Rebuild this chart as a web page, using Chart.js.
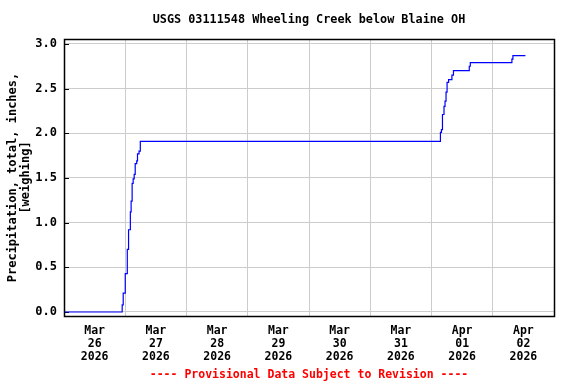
<!DOCTYPE html>
<html>
<head>
<meta charset="utf-8">
<script src="https://cdn.jsdelivr.net/npm/chart.js@4/dist/chart.umd.min.js"></script>
<style>
  html, body { margin: 0; padding: 0; background: #fff; }
  #wrap { width: 576px; height: 384px; }
</style>
</head>
<body>
<div id="wrap"><canvas id="c" width="576" height="384"></canvas></div>
<script>
// Hours since 2026-03-26 00:00 at which the accumulated precipitation changed
const HOURS = [0, 22.8, 23.2, 24.0, 24.8, 25.3, 26.0, 26.3, 26.7, 27.1, 27.5, 27.9, 28.5, 28.8, 29.4, 29.9,
               147.5, 147.9, 148.3, 148.9, 149.3, 149.7, 150.1, 150.7, 152.0, 152.6, 158.8, 159.2, 175.5, 175.9, 180.8];
// Precipitation, total, inches
const PRECIP = [0, 0.08, 0.21, 0.43, 0.70, 0.92, 1.12, 1.24, 1.44, 1.49, 1.54, 1.66, 1.69, 1.77, 1.80, 1.91,
                2.01, 2.04, 2.21, 2.30, 2.36, 2.46, 2.57, 2.60, 2.65, 2.70, 2.75, 2.79, 2.83, 2.87, 2.87];
// Day labels (centered at noon of each day)
const DAY_MONTHS = ["Mar", "Mar", "Mar", "Mar", "Mar", "Mar", "Apr", "Apr"];
const DAY_NUMS = ["26", "27", "28", "29", "30", "31", "01", "02"];
const DAY_YEARS = ["2026", "2026", "2026", "2026", "2026", "2026", "2026", "2026"];
const Y_TICKS = [0, 0.5, 1.0, 1.5, 2.0, 2.5, 3.0];

const TITLE = "USGS 03111548 Wheeling Creek below Blaine OH";
const Y_TITLE = ["Precipitation, total, inches,", "[weighing]"];
const FOOTER = "---- Provisional Data Subject to Revision ----";

const FONT = "'DejaVu Sans Mono', 'Liberation Mono', monospace";

const points = HOURS.map((h, i) => ({ x: h, y: PRECIP[i] }));

const boxPlugin = {
  id: 'box',
  beforeDatasetsDraw(chart) {
    const { ctx, chartArea: a, scales } = chart;
    ctx.save();
    ctx.strokeStyle = '#000';
    ctx.lineWidth = 1;
    ctx.beginPath();
    Y_TICKS.forEach(v => {
      const y = Math.round(scales.y.getPixelForValue(v)) + 0.5;
      ctx.moveTo(a.left, y);
      ctx.lineTo(a.left + 5, y);
    });
    ctx.stroke();
    ctx.restore();
  },
  afterDatasetsDraw(chart) {
    const { ctx, chartArea: a } = chart;
    ctx.save();
    ctx.strokeStyle = '#000';
    ctx.lineWidth = 1.5;
    ctx.strokeRect(Math.round(a.left) + 0.5, Math.round(a.top) + 0.5,
                   Math.round(a.right - a.left), Math.round(a.bottom - a.top));
    // Title centred over the plot area
    ctx.fillStyle = '#000';
    ctx.font = "bold 11.8px " + FONT;
    ctx.textAlign = 'center';
    ctx.textBaseline = 'middle';
    ctx.fillText(TITLE, (a.left + a.right) / 2, 19.5);
    ctx.restore();
  }
};

new Chart(document.getElementById('c'), {
  type: 'line',
  data: {
    datasets: [{
      data: points,
      borderColor: '#0000ff',
      borderWidth: 1.2,
      pointRadius: 0,
      stepped: true,
      fill: false,
      tension: 0
    }]
  },
  options: {
    responsive: false,
    animation: false,
    devicePixelRatio: 1,
    layout: { padding: { left: 0, right: 22, top: 39, bottom: 0 } },
    plugins: {
      legend: { display: false },
      tooltip: { enabled: false },
      title: { display: false }
    },
    scales: {
      x: {
        type: 'linear',
        min: 0,
        max: 192,
        afterBuildTicks(scale) {
          const t = [];
          for (let v = 0; v <= 192; v += 12) t.push({ value: v });
          scale.ticks = t;
        },
        afterFit(scale) { scale.height = 68; },
        grid: {
          drawTicks: false,
          lineWidth: 1,
          color: (c) => (c.tick && c.tick.value % 24 === 0) ? '#cccccc' : 'rgba(0,0,0,0)'
        },
        border: { display: false },
        ticks: {
          autoSkip: false,
          maxRotation: 0,
          padding: 9,
          color: '#000',
          font: { family: FONT, size: 11.5, weight: 'bold', lineHeight: 1.12 },
          callback(v) {
            if (v % 24 !== 12) return '';
            const i = (v - 12) / 24;
            return [DAY_MONTHS[i], DAY_NUMS[i], DAY_YEARS[i]];
          }
        },
        title: {
          display: true,
          text: FOOTER,
          color: '#ff0000',
          font: { family: FONT, size: 11.5, weight: 'bold', lineHeight: 1.2 },
          padding: { top: 0, bottom: 2 }
        }
      },
      y: {
        type: 'linear',
        min: -0.045,
        max: 3.055,
        afterBuildTicks(scale) {
          scale.ticks = Y_TICKS.map(v => ({ value: v }));
        },
        afterFit(scale) { scale.width = 64; },
        grid: {
          drawTicks: false,
          lineWidth: 1,
          color: '#cccccc'
        },
        border: { display: false },
        ticks: {
          padding: 7,
          color: '#000',
          font: { family: FONT, size: 12, weight: 'bold' },
          callback: (v) => Number(v).toFixed(1)
        },
        title: {
          display: true,
          text: Y_TITLE,
          color: '#000',
          font: { family: FONT, size: 12, weight: 'bold', lineHeight: 1.1 },
          padding: { top: 6, bottom: 0 }
        }
      }
    }
  },
  plugins: [boxPlugin]
});
</script>
</body>
</html>
